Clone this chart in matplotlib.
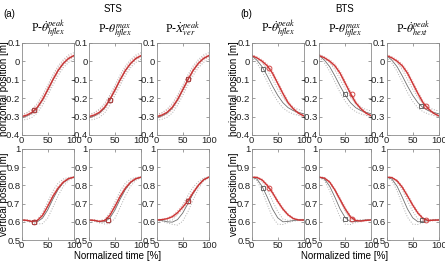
import matplotlib
matplotlib.use("Agg")
import matplotlib.pyplot as plt
import numpy as np

plt.rcParams['font.family'] = ['Liberation Sans', 'DejaVu Sans']
plt.rcParams['mathtext.fontset'] = 'stix'
plt.rcParams['axes.unicode_minus'] = False

# normalized time [%]
t = [0, 10, 20, 30, 40, 50, 60, 70, 80, 90, 100]

# STS horizontal position
sts_hor_red = [-0.300, -0.292, -0.277, -0.250, -0.208, -0.155, -0.100, -0.050, -0.012, 0.015, 0.030]
sts_hor_gray = [-0.305, -0.297, -0.282, -0.255, -0.212, -0.158, -0.102, -0.052, -0.014, 0.013, 0.028]
sts_hor_sd_red = [0.008, 0.010, 0.012, 0.014, 0.015, 0.015, 0.015, 0.014, 0.012, 0.010, 0.008]
sts_hor_sd_gray = [0.015, 0.018, 0.022, 0.026, 0.028, 0.028, 0.028, 0.026, 0.022, 0.020, 0.018]

# STS vertical position
sts_ver_red = [0.610, 0.608, 0.602, 0.607, 0.635, 0.685, 0.740, 0.785, 0.818, 0.837, 0.845]
sts_ver_gray = [0.610, 0.607, 0.600, 0.600, 0.620, 0.665, 0.725, 0.778, 0.815, 0.836, 0.845]
sts_ver_red_3 = [0.610, 0.612, 0.617, 0.628, 0.650, 0.680, 0.715, 0.760, 0.800, 0.830, 0.845]
sts_ver_gray_3 = [0.610, 0.607, 0.600, 0.598, 0.612, 0.648, 0.700, 0.755, 0.800, 0.832, 0.845]
sts_ver_sd_red = [0.002, 0.003, 0.004, 0.006, 0.010, 0.012, 0.012, 0.010, 0.007, 0.004, 0.002]
sts_ver_sd_gray = [0.003, 0.004, 0.006, 0.012, 0.030, 0.045, 0.045, 0.035, 0.020, 0.008, 0.003]

# BTS horizontal position
bts_hor_red = [0.030, 0.018, 0.000, -0.025, -0.065, -0.120, -0.175, -0.225, -0.258, -0.282, -0.296]
bts_hor_gray = [0.030, 0.005, -0.030, -0.080, -0.135, -0.185, -0.225, -0.252, -0.268, -0.278, -0.285]
bts_hor_sd_red = [0.005, 0.006, 0.008, 0.010, 0.012, 0.012, 0.012, 0.010, 0.008, 0.007, 0.006]
bts_hor_sd_gray = [0.008, 0.015, 0.025, 0.032, 0.035, 0.033, 0.028, 0.022, 0.018, 0.016, 0.015]

# BTS vertical position
bts_ver_red_1 = [0.845, 0.844, 0.830, 0.800, 0.760, 0.712, 0.670, 0.638, 0.618, 0.610, 0.610]
bts_ver_red_2 = [0.845, 0.840, 0.818, 0.775, 0.722, 0.670, 0.627, 0.607, 0.604, 0.608, 0.610]
bts_ver_red_3 = [0.845, 0.843, 0.825, 0.790, 0.742, 0.692, 0.648, 0.618, 0.607, 0.609, 0.610]
bts_ver_gray = [0.845, 0.835, 0.795, 0.735, 0.670, 0.622, 0.600, 0.602, 0.607, 0.610, 0.610]
bts_ver_sd_red = [0.002, 0.003, 0.005, 0.008, 0.010, 0.010, 0.008, 0.006, 0.004, 0.003, 0.003]
bts_ver_sd_gray = [0.002, 0.008, 0.025, 0.040, 0.045, 0.035, 0.015, 0.006, 0.004, 0.003, 0.003]

# event markers (time, value)
sts_hor_events = [(23, -0.265), (40, -0.208), (61, -0.098)]
sts_ver_events = [(23, 0.597), (36, 0.612), (60, 0.715)]
bts_hor_gray_events = [(21, -0.040), (50, -0.177), (66, -0.242)]
bts_hor_red_events = [(34, -0.038), (63, -0.177), (76, -0.242)]
bts_ver_gray_events = [(21, 0.787), (50, 0.613), (67, 0.608)]
bts_ver_red_events = [(34, 0.787), (63, 0.613), (75, 0.610)]

sts_titles = [r'P-$\dot{\theta}_{hflex}^{peak}$', r'P-$\theta_{hflex}^{max}$', r'P-$\dot{X}_{ver}^{peak}$']
bts_titles = [r'P-$\dot{\theta}_{hflex}^{peak}$', r'P-$\theta_{hflex}^{max}$', r'P-$\dot{\theta}_{hext}^{peak}$']

hor_ticks = [-0.4, -0.3, -0.2, -0.1, 0, 0.1]
hor_labels = ['-0.4', '-0.3', '-0.2', '-0.1', '0', '0.1']
ver_ticks = [0.5, 0.6, 0.7, 0.8, 0.9, 1]
ver_labels = ['0.5', '0.6', '0.7', '0.8', '0.9', '1']
x_ticks = [0, 50, 100]

RED = '#cc3333'
RED_LIGHT = '#e8a5a5'
GRAY = '#707070'
GRAY_LIGHT = '#b0b0b0'

fig = plt.figure(figsize=(4.45, 2.64), dpi=100)

W, H = 445, 264
lefts = [21.7, 89, 156.7, 251.7, 319.3, 386.7]
width = 52
rows = [(42.7, 135), (149, 240)]


def make_ax(col, row):
    top, bot = rows[row]
    ax = fig.add_axes([lefts[col] / W, 1 - bot / H, width / W, (bot - top) / H])
    for s in ax.spines.values():
        s.set_color('#8c8c8c')
        s.set_linewidth(0.6)
    ax.tick_params(direction='in', length=2, width=0.5, color='#777777',
                   labelsize=6.8, pad=1.0, top=True, right=True, labelcolor='#222222')
    ax.set_xlim(0, 100)
    ax.set_xticks(x_ticks)
    return ax


def draw(ax, red, sd_red, gray, sd_gray):
    red = np.array(red)
    gray = np.array(gray)
    sd_red = np.array(sd_red)
    sd_gray = np.array(sd_gray)
    ax.plot(t, gray + sd_gray, ':', color=GRAY_LIGHT, lw=0.7)
    ax.plot(t, gray - sd_gray, ':', color=GRAY_LIGHT, lw=0.7)
    ax.plot(t, red + sd_red, ':', color=RED_LIGHT, lw=0.7)
    ax.plot(t, red - sd_red, ':', color=RED_LIGHT, lw=0.7)
    ax.plot(t, gray, '-', color=GRAY, lw=0.6)
    ax.plot(t, red, '-', color=RED, lw=1.0)


def marks(ax, gpt, rpt):
    ax.plot(gpt[0], gpt[1], 's', mfc='none', mec='#555555', ms=3.5, mew=0.6)
    ax.plot(rpt[0], rpt[1], 'o', mfc='none', mec=RED, ms=3.5, mew=0.6)


for i in range(3):
    # STS horizontal
    ax = make_ax(i, 0)
    draw(ax, sts_hor_red, sts_hor_sd_red, sts_hor_gray, sts_hor_sd_gray)
    marks(ax, sts_hor_events[i], sts_hor_events[i])
    ax.set_ylim(-0.4, 0.1)
    ax.set_yticks(hor_ticks)
    ax.set_yticklabels(hor_labels)
    ax.set_title(sts_titles[i], fontsize=8.5, family='Liberation Serif', pad=7)

    # STS vertical
    ax = make_ax(i, 1)
    if i == 2:
        draw(ax, sts_ver_red_3, sts_ver_sd_red, sts_ver_gray_3, sts_ver_sd_gray)
    else:
        draw(ax, sts_ver_red, sts_ver_sd_red, sts_ver_gray, sts_ver_sd_gray)
    marks(ax, sts_ver_events[i], sts_ver_events[i])
    ax.set_ylim(0.5, 1)
    ax.set_yticks(ver_ticks)
    ax.set_yticklabels(ver_labels)

bts_ver_reds = [bts_ver_red_1, bts_ver_red_2, bts_ver_red_3]
for i in range(3):
    # BTS horizontal
    ax = make_ax(i + 3, 0)
    draw(ax, bts_hor_red, bts_hor_sd_red, bts_hor_gray, bts_hor_sd_gray)
    marks(ax, bts_hor_gray_events[i], bts_hor_red_events[i])
    ax.set_ylim(-0.4, 0.1)
    ax.set_yticks(hor_ticks)
    ax.set_yticklabels(hor_labels)
    ax.set_title(bts_titles[i], fontsize=8.5, family='Liberation Serif', pad=7)

    # BTS vertical
    ax = make_ax(i + 3, 1)
    draw(ax, bts_ver_reds[i], bts_ver_sd_red, bts_ver_gray, bts_ver_sd_gray)
    marks(ax, bts_ver_gray_events[i], bts_ver_red_events[i])
    ax.set_ylim(0.5, 1)
    ax.set_yticks(ver_ticks)
    ax.set_yticklabels(ver_labels)

# y labels placed by hand, as in the original figure
for xpix in (4, 234):
    fig.text(xpix / W, 1 - 89 / H, 'horizontal position [m]', fontsize=7,
             rotation=90, ha='center', va='center')
    fig.text(xpix / W, 1 - 194.5 / H, 'vertical position [m]', fontsize=7,
             rotation=90, ha='center', va='center')

fig.text(3 / W, 1 - 14 / H, '(a)', fontsize=7, va='center')
fig.text(240 / W, 1 - 14 / H, '(b)', fontsize=7, va='center')
fig.text(113 / W, 1 - 9 / H, 'STS', fontsize=7, ha='center', va='center')
fig.text(345 / W, 1 - 9 / H, 'BTS', fontsize=7, ha='center', va='center')
fig.text(118 / W, 1 - 256 / H, 'Normalized time [%]', fontsize=7, ha='center', va='center')
fig.text(345 / W, 1 - 256 / H, 'Normalized time [%]', fontsize=7, ha='center', va='center')

fig.savefig('out.png', dpi=100)
